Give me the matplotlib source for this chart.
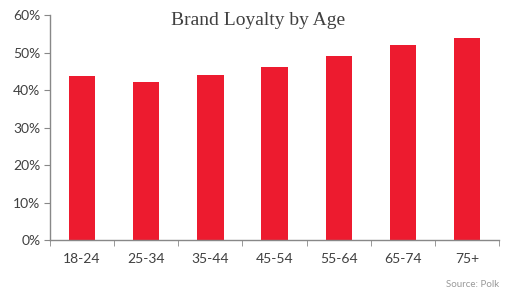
import matplotlib
matplotlib.use("Agg")
import matplotlib.pyplot as plt
import numpy as np

categories = ["18-24", "25-34", "35-44", "45-54", "55-64", "65-74", "75+"]
values = [43.8, 42.2, 44.1, 46.2, 49.2, 51.9, 53.9]
yticks = [0, 10, 20, 30, 40, 50, 60]
ytick_labels = ["0%", "10%", "20%", "30%", "40%", "50%", "60%"]

fig = plt.figure(figsize=(5.14, 2.96), dpi=100)
ax = fig.add_axes([0.0973, 0.189, 0.8737, 0.760])
x = np.arange(len(categories))
ax.bar(x, values, width=0.41, color="#ED1B2F")
ax.set_xlim(-0.5, len(categories) - 0.5)
ax.set_ylim(0, 60)
ax.set_yticks(yticks)
ax.set_yticklabels(ytick_labels)
ax.set_xticks(x)
ax.set_xticklabels(categories)
ax.set_xticks(np.arange(len(categories) + 1) - 0.5, minor=True)
ax.tick_params(axis="x", which="major", length=0, pad=9)
ax.tick_params(axis="x", which="minor", length=4, color="#888888", direction="out")
ax.tick_params(axis="y", length=4, color="#888888", pad=3)
for lab in ax.get_xticklabels() + ax.get_yticklabels():
    lab.set_fontfamily("Lato")
    lab.set_fontsize(10)
    lab.set_color("#404040")
for s in ["top", "right"]:
    ax.spines[s].set_visible(False)
for s in ["left", "bottom"]:
    ax.spines[s].set_color("#888888")
    ax.spines[s].set_linewidth(1)

fig.text(0.502, 0.93, "Brand Loyalty by Age", ha="center", va="center",
         fontfamily="Liberation Serif", fontsize=14, color="#404040")
fig.text(0.971, 0.04, "Source: Polk", ha="right", va="center",
         fontfamily="Lato", fontsize=7, color="#999999")
fig.savefig("out.png", dpi=100)
